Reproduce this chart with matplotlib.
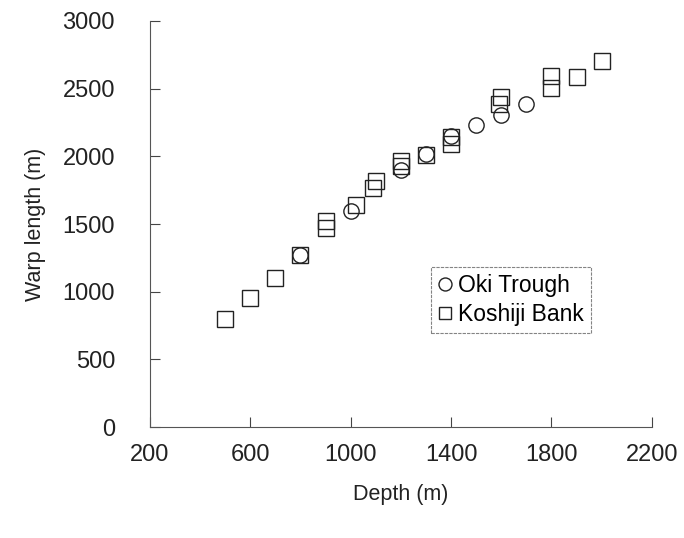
import matplotlib
matplotlib.use("Agg")
import matplotlib.pyplot as plt

plt.rcParams['font.family'] = ['Liberation Sans', 'DejaVu Sans']

oki_depth = [800, 1000, 1200, 1300, 1400, 1500, 1600, 1700]
oki_warp = [1270, 1595, 1900, 2020, 2150, 2235, 2305, 2390]

kos_depth = [500, 600, 700, 800, 900, 900, 1020, 1100, 1090, 1200, 1200, 1300,
             1400, 1400, 1600, 1590, 1800, 1800, 1900, 2000]
kos_warp = [800, 955, 1105, 1270, 1525, 1470, 1640, 1815, 1770, 1965, 1930, 2010,
            2140, 2090, 2440, 2390, 2590, 2505, 2585, 2705]

x_ticks = [200, 600, 1000, 1400, 1800, 2200]
y_ticks = [0, 500, 1000, 1500, 2000, 2500, 3000]

fig = plt.figure(figsize=(6.84, 5.38), dpi=100)
ax = fig.add_axes([0.219, 0.206, 0.734, 0.755])

ax.plot(oki_depth, oki_warp, linestyle='none', marker='o', markersize=11,
        markerfacecolor='none', markeredgecolor='#222222', markeredgewidth=1.0,
        label='Oki Trough')
ax.plot(kos_depth, kos_warp, linestyle='none', marker='s', markersize=11,
        markerfacecolor='none', markeredgecolor='#222222', markeredgewidth=1.0,
        label='Koshiji Bank')

ax.set_xlim(200, 2200)
ax.set_ylim(0, 3000)
ax.set_xticks(x_ticks)
ax.set_yticks(y_ticks)
ax.tick_params(direction='in', length=7, width=0.8, color='#444444',
               labelsize=17, labelcolor='#222222')
ax.tick_params(axis='y', pad=25)
ax.tick_params(axis='x', pad=12)

for s in ['top', 'right']:
    ax.spines[s].set_visible(False)
for s in ['left', 'bottom']:
    ax.spines[s].set_color('#555555')
    ax.spines[s].set_linewidth(0.8)

ax.set_xlabel('Depth (m)', fontsize=15.5, color='#222222', labelpad=13)
ax.set_ylabel('Warp length (m)', fontsize=15.5, color='#222222', labelpad=12)

leg = ax.legend(loc='upper left', bbox_to_anchor=(0.56, 0.395), fontsize=16.5,
                handlelength=0.6, handletextpad=0.3, borderpad=0.3,
                labelspacing=0.3, markerscale=0.85, frameon=True, fancybox=False,
                borderaxespad=0)
leg.get_frame().set_edgecolor('#666666')
leg.get_frame().set_linewidth(0.8)
leg.get_frame().set_linestyle((0, (3, 1)))

fig.savefig('out.png', dpi=100)
